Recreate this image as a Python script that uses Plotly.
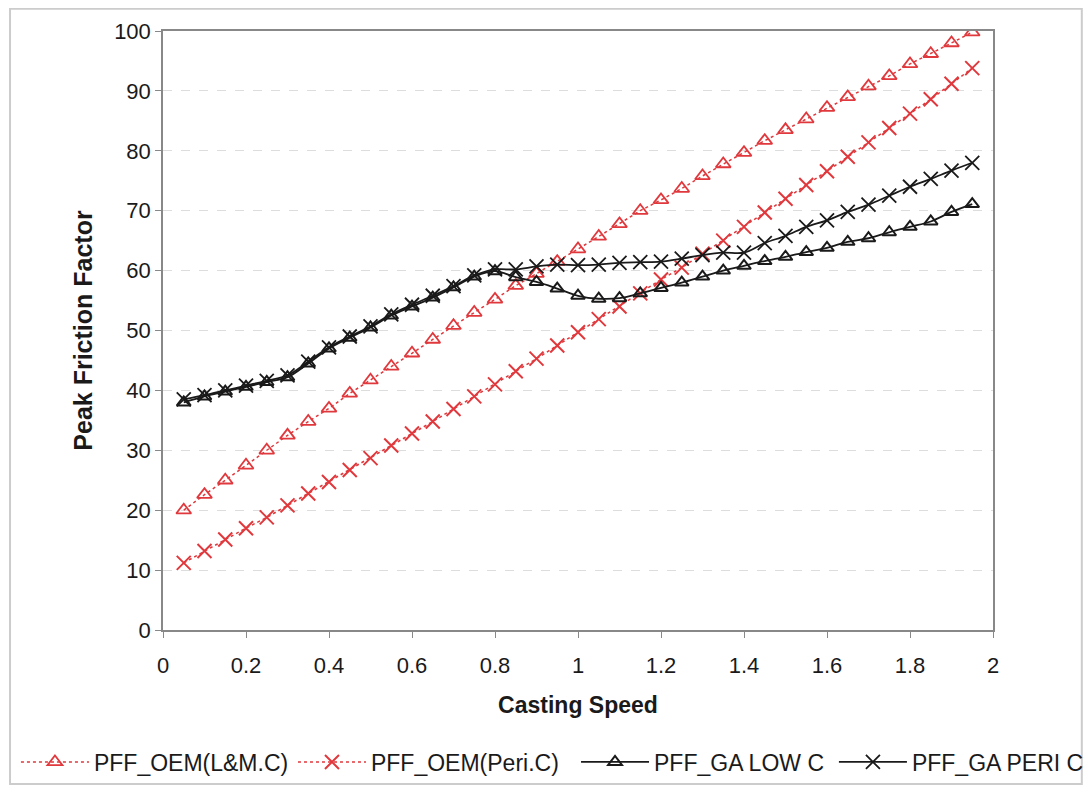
import plotly.graph_objects as go

speed = [0.05, 0.10, 0.15, 0.20, 0.25, 0.30, 0.35, 0.40, 0.45, 0.50,
         0.55, 0.60, 0.65, 0.70, 0.75, 0.80, 0.85, 0.90, 0.95, 1.00,
         1.05, 1.10, 1.15, 1.20, 1.25, 1.30, 1.35, 1.40, 1.45, 1.50,
         1.55, 1.60, 1.65, 1.70, 1.75, 1.80, 1.85, 1.90, 1.95]

oem_lm = [20.0, 22.6, 25.0, 27.5, 30.0, 32.5, 34.8, 37.0, 39.5, 41.7,
          44.0, 46.2, 48.5, 50.8, 53.0, 55.2, 57.5, 59.5, 61.5, 63.6,
          65.7, 67.8, 70.0, 71.8, 73.7, 75.8, 77.8, 79.7, 81.7, 83.5,
          85.3, 87.2, 89.0, 90.8, 92.5, 94.5, 96.2, 98.0, 99.8]

oem_peri = [11.2, 13.2, 15.1, 17.0, 18.8, 20.8, 22.8, 24.7, 26.7, 28.7,
            30.8, 32.8, 34.8, 36.9, 39.0, 41.0, 43.2, 45.3, 47.5, 49.7,
            51.9, 54.0, 56.2, 58.5, 60.5, 62.8, 65.0, 67.3, 69.7, 72.0,
            74.3, 76.6, 79.0, 81.4, 83.8, 86.2, 88.6, 91.2, 93.8]

ga_low = [38.0, 39.0, 39.8, 40.6, 41.4, 42.2, 44.5, 47.0, 48.8, 50.5,
          52.5, 54.0, 55.5, 57.2, 59.0, 59.9, 58.9, 58.1, 57.0, 55.8,
          55.3, 55.4, 56.2, 57.1, 58.0, 59.0, 60.0, 60.8, 61.6, 62.3,
          63.1, 63.8, 64.8, 65.4, 66.4, 67.3, 68.2, 69.8, 71.1]

ga_peri = [38.5, 39.2, 40.0, 40.8, 41.6, 42.5, 44.8, 47.2, 49.0, 50.7,
           52.7, 54.3, 55.8, 57.4, 59.2, 60.2, 60.2, 60.7, 61.0, 60.9,
           61.0, 61.3, 61.4, 61.5, 62.0, 62.6, 63.0, 63.0, 64.6, 65.8,
           67.3, 68.4, 69.8, 71.0, 72.5, 74.0, 75.3, 76.7, 78.0]

x_ticks = [0, 0.2, 0.4, 0.6, 0.8, 1, 1.2, 1.4, 1.6, 1.8, 2]
x_tick_text = ["0", "0.2", "0.4", "0.6", "0.8", "1", "1.2", "1.4", "1.6", "1.8", "2"]
y_ticks = [0, 10, 20, 30, 40, 50, 60, 70, 80, 90, 100]

RED = "#e0383c"
BLACK = "#1a1a1a"
FONT = "Liberation Sans, Arial, sans-serif"

fig = go.Figure()
fig.add_trace(go.Scatter(
    x=speed, y=oem_lm, name="PFF_OEM(L&M.C)", mode="lines+markers", legend="legend",
    line=dict(color=RED, width=1.5, dash="dot"),
    marker=dict(symbol="triangle-up-open", size=13, color=RED, line=dict(width=1.8, color=RED))))
fig.add_trace(go.Scatter(
    x=speed, y=oem_peri, name="PFF_OEM(Peri.C)", mode="lines+markers", legend="legend2",
    line=dict(color=RED, width=1.5, dash="dot"),
    marker=dict(symbol="x-thin-open", size=14, color=RED, line=dict(width=2, color=RED))))
fig.add_trace(go.Scatter(
    x=speed, y=ga_low, name="PFF_GA LOW C", mode="lines+markers", legend="legend3",
    line=dict(color=BLACK, width=1.8, shape="spline"),
    marker=dict(symbol="triangle-up-open", size=12, color=BLACK, line=dict(width=2, color=BLACK))))
fig.add_trace(go.Scatter(
    x=speed, y=ga_peri, name="PFF_GA PERI C", mode="lines+markers", legend="legend4",
    line=dict(color=BLACK, width=1.8, shape="spline"),
    marker=dict(symbol="x-thin-open", size=14, color=BLACK, line=dict(width=1.8, color=BLACK))))

leg_common = dict(orientation="h", xref="container", yref="container",
                  xanchor="left", y=0.0296, yanchor="middle",
                  font=dict(size=23, family=FONT, color=BLACK),
                  itemwidth=68, bgcolor="rgba(0,0,0,0)")

fig.update_layout(
    width=1075, height=777,
    margin=dict(l=155, r=90, t=23, b=155),
    paper_bgcolor="white", plot_bgcolor="white",
    font=dict(family=FONT, color=BLACK, size=21),
    showlegend=True,
    legend=dict(x=0.0074, **leg_common),
    legend2=dict(x=0.2651, **leg_common),
    legend3=dict(x=0.5284, **leg_common),
    legend4=dict(x=0.7683, **leg_common),
    shapes=[dict(type="rect", xref="paper", yref="paper",
                 x0=-0.1843, x1=1.107, y0=-0.257, y1=1.037,
                 line=dict(color="#cccccc", width=2), fillcolor="rgba(0,0,0,0)", layer="below")],
)
fig.update_xaxes(
    range=[0, 2], tickvals=x_ticks, ticktext=x_tick_text,
    showgrid=False, zeroline=False,
    showline=True, linecolor="#888888", linewidth=1.5, mirror=True,
    ticks="outside", ticklen=6, tickcolor="#888888", ticklabelstandoff=9,
    tickfont=dict(size=22, family=FONT),
    title=dict(text="<b>Casting Speed</b>", font=dict(size=23, family=FONT), standoff=20),
)
fig.update_yaxes(
    range=[0, 100], tickvals=y_ticks,
    showgrid=True, gridcolor="#dddddd", griddash="dash", gridwidth=1,
    zeroline=False,
    showline=True, linecolor="#888888", linewidth=1.5, mirror=True,
    ticks="outside", ticklen=6, tickcolor="#888888",
    tickfont=dict(size=22, family=FONT),
    title=dict(text="<b>Peak Friction Factor</b>", font=dict(size=25, family=FONT), standoff=14),
)

fig.write_html("out.html")
